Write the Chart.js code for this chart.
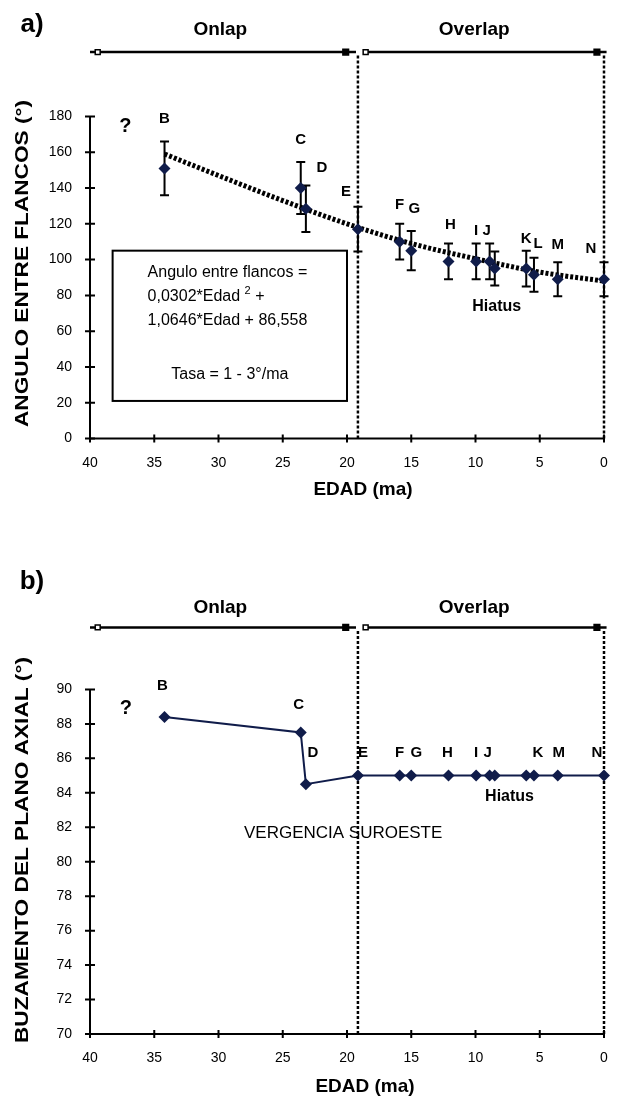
<!DOCTYPE html>
<html><head><meta charset="utf-8">
<script src="https://cdn.jsdelivr.net/npm/chart.js@4.4.1/dist/chart.umd.min.js"></script>
<style>
html,body{margin:0;padding:0;background:#fff;}
#wrap{position:relative;width:624px;height:1098px;overflow:hidden;}
canvas{position:absolute;left:0;}
</style></head><body>
<div id="wrap">
<canvas id="c1" width="624" height="540" style="top:0px"></canvas>
<canvas id="c2" width="624" height="558" style="top:540px"></canvas>
</div>
<script>
// ---------- DATA ----------
const ages        = [34.2, 23.6, 23.2, 19.15, 15.9, 15.0, 12.1, 9.95, 8.9, 8.5, 6.05, 5.45, 3.6, 0];
const angles      = [151, 140, 128.5, 117, 110, 105, 99, 99, 99, 95, 95, 91.5, 89, 89];
const angleErrors = [15, 14.5, 13, 12.5, 10, 11, 10, 10, 10, 9.5, 10, 9.5, 9.5, 9.5];
const dips        = [88.4, 87.5, 84.5, 85, 85, 85, 85, 85, 85, 85, 85, 85, 85, 85];
const topLabels    = ['B','C','D','E','F','G','H','I','J','','K','L','M','N'];
const bottomLabels = ['B','C','D','E','F','G','H','I','J','','','K','M','N'];
const trendAges   = [34.2, 30, 25, 20, 15, 10, 5, 0];
const trendAngles = [159, 147, 133, 120, 109, 100.5, 93, 88];
const ageTicks    = [40, 35, 30, 25, 20, 15, 10, 5, 0];
const angleTicks  = [0, 20, 40, 60, 80, 100, 120, 140, 160, 180];
const dipTicks    = [70, 72, 74, 76, 78, 80, 82, 84, 86, 88, 90];
const onlapAges   = [40, 39.4, 20.1, 19.3];
const overlapAges = [18.7, 18.55, 0.55, -0.2];
const dividerAges = [19.15, 0];
const phaseNames  = ['Onlap', 'Overlap'];
const phaseCenters = [29.86, 10.1];

// ---------- STYLE ----------
const FONT = 'Arial, "Liberation Sans", Helvetica, sans-serif';
const NAVY = '#101c4a';
const topOffsets = [[0,-50],[0,-48],[16,-41],[-12,-37],[0,-37],[3,-42],[2,-37],[0,-31],[-3,-31],[0,0],[0,-30],[4,-31],[0,-34],[-13,-30]];
const bottomOffsets = [[-2,-31],[-2,-28],[7,-31],[5,-23],[0,-23],[5,-23],[-1,-23],[0,-23],[-2,-23],[0,0],[0,0],[4,-23],[1,-23],[-7,-23]];

function txt(ctx, s, x, y, font, align) {
  ctx.font = font; ctx.textAlign = align || 'center'; ctx.textBaseline = 'middle';
  ctx.fillStyle = '#000'; ctx.fillText(s, x, y);
}

const customPlugin = {
  id: 'custom',
  beforeDatasetsDraw(chart) {
    const o = chart.options.plugins.custom;
    const {ctx, scales: {x, y}} = chart;
    ctx.save();
    ctx.strokeStyle = '#000'; ctx.lineWidth = 2;
    const ax = x.getPixelForValue(ageTicks[0]);
    const ay = y.getPixelForValue(o.yTicks[0]);
    const yTop = y.getPixelForValue(o.yTicks[o.yTicks.length - 1]);
    const xRight = x.getPixelForValue(ageTicks[ageTicks.length - 1]);
    ctx.beginPath();
    ctx.moveTo(ax, yTop); ctx.lineTo(ax, ay); ctx.lineTo(xRight + 1, ay);
    ctx.stroke();
    ctx.beginPath();
    o.yTicks.forEach(v => { const p = y.getPixelForValue(v); ctx.moveTo(ax - 5, p); ctx.lineTo(ax + 5, p); });
    ageTicks.forEach(a => { const p = x.getPixelForValue(a); ctx.moveTo(p, ay - 4); ctx.lineTo(p, ay + 4); });
    ctx.stroke();
    if (o.errors) {
      ages.forEach((a, i) => {
        const px = x.getPixelForValue(a);
        const t = y.getPixelForValue(o.values[i] + o.errors[i]);
        const b = y.getPixelForValue(o.values[i] - o.errors[i]);
        ctx.beginPath();
        ctx.moveTo(px, t); ctx.lineTo(px, b);
        ctx.moveTo(px - 4.5, t); ctx.lineTo(px + 4.5, t);
        ctx.moveTo(px - 4.5, b); ctx.lineTo(px + 4.5, b);
        ctx.stroke();
      });
    }
    ctx.restore();
  },
  afterDraw(chart) {
    const o = chart.options.plugins.custom;
    const {ctx, scales: {x, y}} = chart;
    ctx.save();
    o.labels.forEach((s, i) => {
      if (!s) return;
      const px = x.getPixelForValue(ages[i]) + o.offsets[i][0];
      const py = y.getPixelForValue(o.values[i]) + o.offsets[i][1];
      txt(ctx, s, px, py, 'bold 15px ' + FONT);
    });
    o.notes.forEach(n => txt(ctx, n.text, x.getPixelForValue(n.age), y.getPixelForValue(n.val), n.font + ' ' + FONT));
    txt(ctx, o.panel.text, o.panel.x, o.panel.y, 'bold 26px ' + FONT);
    phaseNames.forEach((s, i) => txt(ctx, s, x.getPixelForValue(phaseCenters[i]), o.phaseY, 'bold 19px ' + FONT));
    txt(ctx, 'EDAD (ma)', o.xTitle.x, o.xTitle.y, 'bold 19px ' + FONT);
    ctx.save();
    ctx.font = 'bold 18px ' + FONT;
    const w = ctx.measureText(o.yTitle.text).width;
    ctx.translate(o.yTitle.cx, o.yTitle.cy);
    ctx.rotate(-Math.PI / 2);
    ctx.scale(o.yTitle.len / w, 1);
    ctx.textAlign = 'center'; ctx.textBaseline = 'middle'; ctx.fillStyle = '#000';
    ctx.fillText(o.yTitle.text, 0, 0);
    ctx.restore();
    if (o.box) {
      const l = x.getPixelForValue(o.box.ageL), r = x.getPixelForValue(o.box.ageR);
      const t = y.getPixelForValue(o.box.top), b = y.getPixelForValue(o.box.bottom);
      ctx.lineWidth = 2; ctx.strokeStyle = '#000';
      ctx.strokeRect(l, t, r - l, b - t);
      const f = '16px ' + FONT;
      const tx = l + 35;
      txt(ctx, 'Angulo entre flancos =', tx, t + 22, f, 'left');
      ctx.font = f;
      const p1 = '0,0302*Edad ';
      txt(ctx, p1, tx, t + 46, f, 'left');
      const w1 = ctx.measureText(p1).width;
      txt(ctx, '2', tx + w1, t + 40, '11px ' + FONT, 'left');
      ctx.font = '11px ' + FONT;
      const w2 = ctx.measureText('2').width;
      txt(ctx, ' +', tx + w1 + w2, t + 46, f, 'left');
      txt(ctx, '1,0646*Edad + 86,558', tx, t + 70, f, 'left');
      txt(ctx, 'Tasa = 1 - 3°/ma', (l + r) / 2, t + 124, f, 'center');
    }
    ctx.restore();
  }
};

function makeChart(id, p) {
  const datasets = [
    { label: 'points', data: ages.map((a, i) => ({x: a, y: p.values[i]})),
      showLine: p.connect, borderColor: NAVY, borderWidth: 2, tension: 0,
      pointStyle: 'rectRot', pointRadius: 6, pointBackgroundColor: NAVY, pointBorderColor: NAVY, pointBorderWidth: 0, clip: false },
  ];
  if (p.trend) {
    datasets.push({ label: 'trend', data: trendAges.map((a, i) => ({x: a, y: trendAngles[i]})),
      showLine: true, borderColor: '#000', borderWidth: 5, borderDash: [3, 2], pointRadius: 0,
      cubicInterpolationMode: 'monotone', clip: false });
  }
  dividerAges.forEach(a => datasets.push({ label: 'divider', data: [{x: a, y: p.yTicks[0]}, {x: a, y: p.dividerTop}],
      showLine: true, borderColor: '#000', borderWidth: 2.5, borderDash: [3, 2], pointRadius: 0, clip: false }));
  [onlapAges, overlapAges].forEach(arr => datasets.push({ label: 'phase', data: arr.map(a => ({x: a, y: p.bandY})),
      showLine: true, borderColor: '#000', borderWidth: 2.5, pointStyle: 'rect',
      pointRadius: [0, 3.5, 4, 0], pointBackgroundColor: ['#000', '#fff', '#000', '#000'],
      pointBorderColor: '#000', pointBorderWidth: 1.5, clip: false }));

  return new Chart(document.getElementById(id), {
    type: 'scatter',
    data: { datasets },
    options: {
      responsive: false, animation: false, devicePixelRatio: 1,
      layout: { padding: { left: 0, right: 20, top: p.padTop, bottom: 0 } },
      plugins: { legend: { display: false }, tooltip: { enabled: false }, custom: p },
      scales: {
        x: { type: 'linear', min: 0, max: 40, reverse: true,
             afterBuildTicks: s => { s.ticks = ageTicks.map(v => ({value: v})); },
             afterFit: s => { s.height = p.xAxisH; },
             grid: { display: false, drawTicks: false }, border: { display: false },
             ticks: { color: '#000', font: { family: FONT, size: 14 }, padding: 16, maxRotation: 0 } },
        y: { type: 'linear', min: p.yTicks[0], max: p.yMax,
             afterBuildTicks: s => { s.ticks = p.yTicks.map(v => ({value: v})); },
             afterFit: s => { s.width = 90; },
             grid: { display: false, drawTicks: false }, border: { display: false },
             ticks: { color: '#000', font: { family: FONT, size: 14 }, padding: 18 } }
      }
    },
    plugins: [customPlugin]
  });
}

makeChart('c1', {
  values: angles, errors: angleErrors, labels: topLabels, offsets: topOffsets,
  yTicks: angleTicks, yMax: 222.77, padTop: 40, xAxisH: 101.5,
  trend: true, connect: false, bandY: 216, dividerTop: 214.4,
  phaseY: 30, panel: { text: 'a)', x: 32, y: 25 }, xTitle: { x: 363, y: 490 },
  yTitle: { text: 'ANGULO ENTRE FLANCOS (°)', cx: 23.5, cy: 263.5, len: 327 },
  notes: [ { text: '?', age: 37.24, val: 174.3, font: 'bold 20px' },
           { text: 'Hiatus', age: 8.35, val: 73.7, font: 'bold 16px' } ],
  box: { ageL: 38.24, ageR: 20.0, top: 105, bottom: 21 }
});

makeChart('c2', {
  values: dips, errors: null, labels: bottomLabels, offsets: bottomOffsets,
  yTicks: dipTicks, yMax: 94, padTop: 80.5, xAxisH: 64,
  trend: false, connect: true, bandY: 93.6, dividerTop: 93.4,
  phaseY: 68, panel: { text: 'b)', x: 32, y: 42 }, xTitle: { x: 365, y: 547 },
  yTitle: { text: 'BUZAMENTO DEL PLANO AXIAL (°)', cx: 23.5, cy: 310, len: 386 },
  notes: [ { text: '?', age: 37.2, val: 88.9, font: 'bold 20px' },
           { text: 'Hiatus', age: 7.35, val: 83.76, font: 'bold 16px' },
           { text: 'VERGENCIA SUROESTE', age: 20.3, val: 81.66, font: '17px' } ],
  box: null
});
</script>
</body></html>
